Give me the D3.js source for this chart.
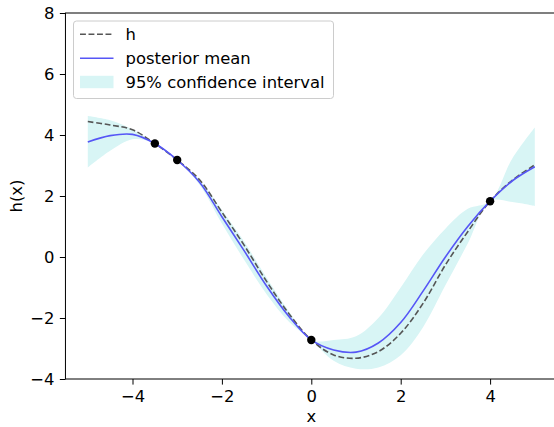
<!DOCTYPE html>
<html>
<head>
<meta charset="utf-8">
<script src="https://cdn.jsdelivr.net/npm/d3@7"></script>
<style>
  body { margin: 0; background: #fff; }
  svg { display: block; }
  text { font-family: "DejaVu Sans", sans-serif; fill: #000; }
</style>
</head>
<body>
<svg id="chart" width="554" height="427"></svg>
<script>
// Sample grid and the curves evaluated on it
const xs        = [-5, -4.5, -4, -3.5, -3, -2.5, -2, -1.5, -1, -0.5, 0, 0.5, 1, 1.5, 2, 2.5, 3, 3.5, 4, 4.5, 5];
const hTrue     = [4.44, 4.33, 4.17, 3.72, 3.18, 2.53, 1.47, 0.38, -0.8, -1.86, -2.72, -3.21, -3.32, -3.1, -2.5, -1.52, -0.26, 0.83, 1.83, 2.52, 3.02];
const postMean  = [3.77, 3.98, 4.02, 3.72, 3.18, 2.45, 1.32, 0.2, -0.95, -1.95, -2.72, -3.05, -3.12, -2.82, -2.15, -1.12, 0.0, 1.0, 1.83, 2.5, 2.96];
const ciLower   = [2.93, 3.48, 3.86, 3.72, 3.18, 2.37, 1.1, -0.1, -1.22, -2.12, -2.72, -3.4, -3.66, -3.62, -3.22, -2.3, -0.93, 0.44, 1.83, 1.8, 1.67];
const ciUpper   = [4.62, 4.48, 4.18, 3.72, 3.18, 2.53, 1.54, 0.5, -0.68, -1.78, -2.72, -2.72, -2.6, -2.0, -1.0, 0.08, 0.93, 1.58, 1.83, 3.24, 4.25];

// Observed points
const obsX = [-3.5, -3, 0, 4];
const obsY = [3.72, 3.18, -2.72, 1.83];

// Axis ticks and labels
const xTicks = [-4, -2, 0, 2, 4];
const yTicks = [-4, -2, 0, 2, 4, 6, 8];
const xLabel = "x";
const yLabel = "h(x)";
const legendLabels = ["h", "posterior mean", "95% confidence interval"];

const svg = d3.select("#chart");
const fontSize = 16.4;

const x = d3.scaleLinear().domain([-5.5, 5.5]).range([65.45, 557.15]);
const y = d3.scaleLinear().domain([-4, 8]).range([379, 13]);

const fmt = d => (d < 0 ? "\u2212" + Math.abs(d) : String(d));

// Confidence band
const band = d3.area()
  .x((d, i) => x(xs[i]))
  .y0((d, i) => y(ciLower[i]))
  .y1((d, i) => y(ciUpper[i]))
  .curve(d3.curveCatmullRom.alpha(0.5));

svg.append("path")
  .attr("d", band(xs))
  .attr("fill", "#d8f5f5")
  .attr("stroke", "none");

const lineOf = arr => d3.line()
  .x((d, i) => x(xs[i]))
  .y((d, i) => y(arr[i]))
  .curve(d3.curveCatmullRom.alpha(0.5))(xs);

// True function, dashed
svg.append("path")
  .attr("d", lineOf(hTrue))
  .attr("fill", "none")
  .attr("stroke", "#555555")
  .attr("stroke-width", 1.6)
  .attr("stroke-dasharray", "5.9,2.6");

// Posterior mean
svg.append("path")
  .attr("d", lineOf(postMean))
  .attr("fill", "none")
  .attr("stroke", "#5656f6")
  .attr("stroke-width", 1.6);

// Observations
svg.selectAll("circle.obs")
  .data(obsX)
  .join("circle")
  .attr("class", "obs")
  .attr("cx", d => x(d))
  .attr("cy", (d, i) => y(obsY[i]))
  .attr("r", 4.2)
  .attr("fill", "#000");

// Axes
const xAxis = d3.axisBottom(x).tickValues(xTicks).tickFormat(fmt).tickSize(5.6).tickPadding(5.4);
const yAxis = d3.axisLeft(y).tickValues(yTicks).tickFormat(fmt).tickSize(5.6).tickPadding(5.4);

const gx = svg.append("g").attr("transform", `translate(0,${y(-4)})`).call(xAxis);
const gy = svg.append("g").attr("transform", `translate(${x(-5.5)},0)`).call(yAxis);

[gx, gy].forEach(g => {
  g.select(".domain").remove();
  g.selectAll(".tick line").attr("stroke", "#000").attr("stroke-width", 1);
  g.selectAll(".tick text")
    .attr("font-size", fontSize)
    .attr("font-family", "DejaVu Sans, sans-serif")
    .attr("fill", "#000");
});

// Frame
const [fx0, fx1] = x.range();
const [fy1, fy0] = y.range();
svg.append("rect")
  .attr("x", fx0).attr("y", fy0)
  .attr("width", fx1 - fx0).attr("height", fy1 - fy0)
  .attr("fill", "none")
  .attr("stroke", "#000")
  .attr("stroke-width", 1);

// Axis titles
svg.append("text")
  .attr("x", x(0))
  .attr("y", 422)
  .attr("text-anchor", "middle")
  .attr("font-size", fontSize)
  .text(xLabel);

svg.append("text")
  .attr("transform", `translate(22,${(fy0 + fy1) / 2}) rotate(-90)`)
  .attr("text-anchor", "middle")
  .attr("font-size", fontSize)
  .text(yLabel);

// Legend
const lg = svg.append("g");
lg.append("rect")
  .attr("x", 73.5).attr("y", 21)
  .attr("width", 260).attr("height", 77.5)
  .attr("rx", 3)
  .attr("fill", "#fff").attr("fill-opacity", 0.8)
  .attr("stroke", "#cccccc").attr("stroke-width", 1);

const rowY = [34.3, 58.3, 82.0];
lg.append("line")
  .attr("x1", 80).attr("x2", 113.5)
  .attr("y1", rowY[0]).attr("y2", rowY[0])
  .attr("stroke", "#555555").attr("stroke-width", 1.6)
  .attr("stroke-dasharray", "5.9,2.6");
lg.append("line")
  .attr("x1", 80).attr("x2", 113.5)
  .attr("y1", rowY[1]).attr("y2", rowY[1])
  .attr("stroke", "#5656f6").attr("stroke-width", 1.6);
lg.append("rect")
  .attr("x", 80).attr("y", rowY[2] - 6.2)
  .attr("width", 33.5).attr("height", 12.4)
  .attr("fill", "#d8f5f5");

lg.selectAll("text.lbl")
  .data(legendLabels)
  .join("text")
  .attr("class", "lbl")
  .attr("x", 125.5)
  .attr("y", (d, i) => rowY[i] + 5.8)
  .attr("font-size", fontSize)
  .text(d => d);
</script>
</body>
</html>
